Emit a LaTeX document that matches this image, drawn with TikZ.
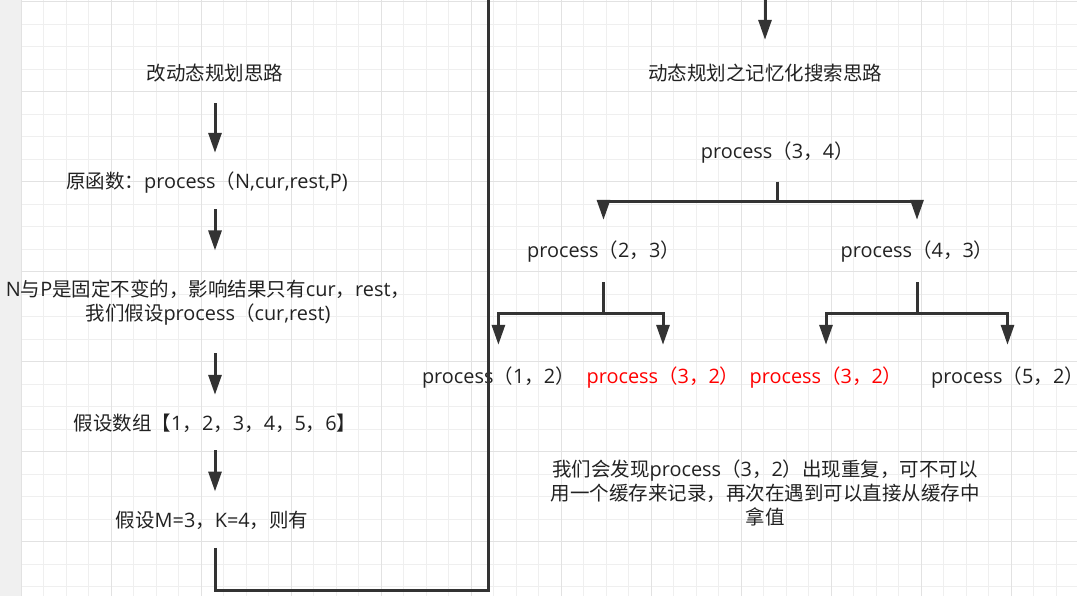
\documentclass[tikz,border=0pt]{standalone}
\usepackage{fontspec}
\setmainfont{Open Sans}[Scale=1.02]
\newfontfamily\zhfont{Noto Sans CJK SC}
% switch to the CJK font for Chinese characters and full-width punctuation
\XeTeXinterchartokenstate=1
\newXeTeXintercharclass\zhcls
\newcount\zhc
\def\zhrange#1#2{\zhc=#1 \loop\XeTeXcharclass\zhc=\zhcls \ifnum\zhc<#2 \advance\zhc by 1 \repeat}
\zhrange{"3000}{"303F}
\zhrange{"4E00}{"9FFF}
\zhrange{"FF00}{"FFEF}
\XeTeXinterchartoks 0 \zhcls = {\zhfont}
\XeTeXinterchartoks 4095 \zhcls = {\zhfont}
\XeTeXinterchartoks \zhcls 0 = {\rmfamily}
\XeTeXinterchartoks \zhcls 4095 = {\rmfamily}
\usetikzlibrary{arrows.meta}
\definecolor{lnc}{HTML}{333333}
\definecolor{txtc}{HTML}{222222}
\definecolor{redc}{HTML}{FF0000}
\definecolor{gridc}{HTML}{EFEFEF}
\definecolor{gridm}{HTML}{E2E2E2}
\definecolor{sidec}{HTML}{F0F0F0}
\tikzset{
  lbl/.style   = {inner sep=0pt, text height=14pt, text depth=4pt, text=txtc,
                  font=\fontsize{19.5}{24.4}\selectfont},
  multi/.style = {inner sep=0pt, align=center, text=txtc,
                  font=\fontsize{19.5}{24.4}\selectfont},
  hit/.style   = {lbl, text=redc},
  ln/.style    = {line width=3pt, draw=lnc},
  arr/.style   = {ln, -{Triangle[length=20pt,width=13pt]}},
  gridln/.style  = {line width=1pt, draw=gridc},
  gridmaj/.style = {line width=1pt, draw=gridm},
}

\begin{document}
\begin{tikzpicture}[x=1pt, y=-1pt]
    \useasboundingbox (0,0) rectangle (1077,596);
    \clip (0,0) rectangle (1077,596);
    \fill[white] (0,0) rectangle (1077,596);
    \fill[sidec] (0,0) rectangle (20.5,596);
    % grid
    \foreach \i in {0,...,46} \draw[gridln] ({21+22.5*\i},0) -- ({21+22.5*\i},596);
    \foreach \j in {0,...,26} \draw[gridln] (21,{1.7+22.5*\j}) -- (1077,{1.7+22.5*\j});
    \foreach \i in {0,...,11} \draw[gridmaj] ({21+90*\i},0) -- ({21+90*\i},596);
    \foreach \j in {0,...,6} \draw[gridmaj] (21,{1.7+90*\j}) -- (1077,{1.7+90*\j});

    % left column
    \coordinate (spine) at (215,0);
    \node (idea)  [lbl]   at (215,75.5)  {改动态规划思路};
    \node (orig)  [lbl]   at (207,183.5) {原函数：process（N,cur,rest,P)};
    \node (fixed) [multi] at (208,302.5) {N与P是固定不变的，影响结果只有cur，rest，\\我们假设process（cur,rest)};
    \node (arrs)  [lbl]   at (215,425)   {假设数组【1，2，3，4，5，6】};
    \node (mk)    [lbl]   at (212,522)   {假设M=3，K=4，则有};

    \draw [arr, shorten <=18.5pt, shorten >=21.5pt] (idea.south -| spine) -- (orig.north -| spine);
    \draw [arr, shorten <=16.5pt, shorten >=29pt]   (orig.south -| spine) -- (fixed.north -| spine);
    \draw [arr, shorten <=27.5pt, shorten >=21pt]   (fixed.south -| spine) -- (arrs.north -| spine);
    \draw [arr, shorten <=16pt, shorten >=21.3pt]   (arrs.south -| spine) -- (mk.north -| spine);

    % right column
    \node (memo) [lbl] at (765,75.3)    {动态规划之记忆化搜索思路};
    \node (p34)  [lbl] at (777.3,153.5) {process（3，4）};
    \node (p23)  [lbl] at (603.5,253)   {process（2，3）};
    \node (p43)  [lbl] at (917,253)     {process（4，3）};
    \node (p12)  [lbl] at (498.4,378)   {process（1，2）};
    \node (p32a) [hit] at (663,378)     {process（3，2）};
    \node (p32b) [hit] at (826,378)     {process（3，2）};
    \node (p52)  [lbl] at (1007.5,378)  {process（5，2）};
    \node (note) [multi] at (765,493)
        {我们会发现process（3，2）出现重复，可不可以\\用一个缓存来记录，再次在遇到可以直接从缓存中\\拿值};

    % loop from the left column over to the right one
    \coordinate (lowL) at (488.5,590);
    \coordinate (topL) at (488.5,-20);
    \draw [arr, shorten <=16.7pt, shorten >=26.3pt] (mk.south -| spine) |- (lowL) -- (topL) -| (memo.north);

    % recursion tree
    \coordinate (j0) at (777.3,201.5);
    \coordinate (j1) at (603.5,313.5);
    \coordinate (j2) at (917,313.5);
    \draw [ln, shorten <=19pt] (p34) -- (j0);
    \draw [arr, shorten >=24pt] (j0) -| (p23);
    \draw [arr, shorten >=24pt] (j0) -| (p43);
    \draw [ln, shorten <=20pt] (p23) -- (j1);
    \draw [arr, shorten >=24pt] (j1) -| (p12);
    \draw [arr, shorten >=24pt] (j1) -| (p32a);
    \draw [ln, shorten <=20pt] (p43) -- (j2);
    \draw [arr, shorten >=24pt] (j2) -| (p32b);
    \draw [arr, shorten >=24pt] (j2) -| (p52);
\end{tikzpicture}
\end{document}
